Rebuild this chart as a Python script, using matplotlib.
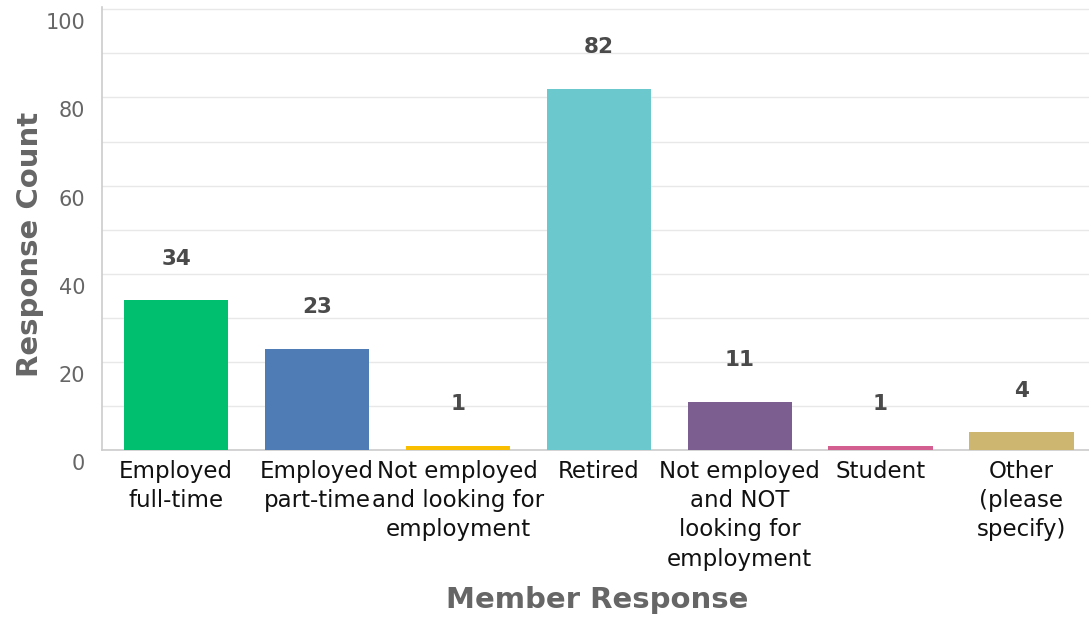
import matplotlib
matplotlib.use("Agg")
import matplotlib.pyplot as plt
from matplotlib.transforms import ScaledTranslation

categories = [
    "Employed\nfull-time",
    "Employed\npart-time",
    "Not employed\nand looking for\nemployment",
    "Retired",
    "Not employed\nand NOT\nlooking for\nemployment",
    "Student",
    "Other\n(please\nspecify)",
]
counts = [34, 23, 1, 82, 11, 1, 4]
colors = ["#00BF6F", "#507CB6", "#F9BE00", "#6BC8CD", "#7D5E90", "#D25F90", "#CDB670"]
y_ticks = [0, 20, 40, 60, 80, 100]

fig = plt.figure(figsize=(10.89, 6.2), dpi=100)
ax = fig.add_axes([0.0937, 0.274, 0.9063, 0.7145])

x = list(range(len(categories)))
ax.bar(x, counts, width=0.74, color=colors, zorder=3)

for xi, v in zip(x, counts):
    ax.annotate(str(v), (xi, v), xytext=(0, 30), textcoords="offset points",
                ha="center", va="center", fontsize=15.5, color="#4a4a4a",
                family="DejaVu Sans", fontweight="semibold")

ax.set_xlim(-0.526, 6.48)
ax.set_ylim(0, 100.5)
ax.set_yticks(y_ticks)
ax.set_yticks(range(10, 100, 20), minor=True)
ax.grid(axis="y", which="both", color="#e8e8e8", linewidth=1, zorder=0)
ax.tick_params(axis="y", which="both", length=0, pad=12, labelsize=15,
               labelcolor="#666666")
ax.tick_params(axis="x", length=0, pad=7)
for lbl in ax.get_yticklabels():
    lbl.set_family("DejaVu Sans")
    lbl.set_transform(lbl.get_transform() + ScaledTranslation(0, -12 / 100, fig.dpi_scale_trans))

ax.set_xticks(x)
ax.set_xticklabels(categories, fontsize=16.5, family="DejaVu Sans", color="#111111",
                   linespacing=1.35, va="top")

for side in ("top", "right"):
    ax.spines[side].set_visible(False)
for side in ("left", "bottom"):
    ax.spines[side].set_color("#cccccc")
    ax.spines[side].set_linewidth(1.2)

fig.text(0.028, 0.606, "Response Count", rotation=90, ha="center", va="center",
         fontsize=21, fontweight="bold", color="#666666", family="DejaVu Sans")
fig.text(0.548, 0.032, "Member Response", ha="center", va="center",
         fontsize=21, fontweight="bold", color="#666666", family="DejaVu Sans")

fig.savefig("out.png", dpi=100)
